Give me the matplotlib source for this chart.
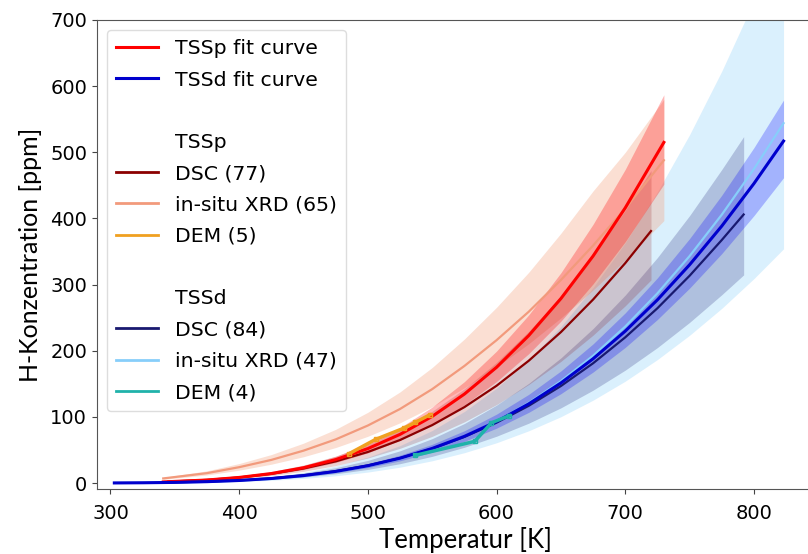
import matplotlib
matplotlib.use('Agg')
import matplotlib.pyplot as plt
from matplotlib.lines import Line2D

# TSSp group (fit curve + in-situ XRD), temperature grid in K
T_p = [341, 375, 400, 425, 450, 475, 500, 525, 550, 575, 600, 625, 650, 675, 700, 730]
tssp_fit = [1.75, 4.6, 8.5, 14.4, 23.2, 35.5, 52.1, 73.6, 100.8, 134.5, 175.0, 223.0, 278.9, 343.2, 416.0, 515]
tssp_fit_hi = [2.0, 5.2, 9.7, 16.4, 26.4, 40.5, 59.4, 83.9, 114.9, 153.3, 199.5, 254.2, 317.9, 391.2, 474.2, 587]
tssp_fit_lo = [1.5, 4.0, 7.5, 12.6, 20.4, 31.1, 45.7, 64.6, 88.4, 118.0, 153.5, 195.6, 244.7, 301.1, 364.9, 451.8]
xrd_p = [7, 15, 24, 35, 49, 66, 87, 112, 142, 177, 216, 259, 307, 359, 415, 488]
xrd_p_hi = [8.6, 18.5, 29.5, 43.1, 60.3, 81.2, 107.0, 137.8, 174.7, 217.7, 265.7, 318.6, 377.6, 441.6, 500, 580]
xrd_p_lo = [5.7, 12.2, 19.5, 28.5, 39.8, 53.7, 70.7, 91.1, 115.4, 143.9, 175.6, 210.6, 249.6, 291.9, 337.4, 396.7]

# TSSp DSC
T_dsc_p = [345, 375, 400, 425, 450, 475, 500, 525, 550, 575, 600, 625, 650, 675, 700, 720]
dsc_p = [2.2, 4.8, 8.5, 14.0, 22.0, 32.8, 47.0, 65.1, 87.6, 114.8, 147.1, 184.9, 228.2, 277.4, 332.5, 381]
dsc_p_hi = [2.7, 6.0, 10.5, 17.4, 27.3, 40.7, 58.3, 80.7, 108.6, 142.4, 182.4, 229.3, 283.0, 344.0, 412.3, 472.4]
dsc_p_lo = [1.8, 3.9, 6.9, 11.3, 17.7, 26.4, 37.9, 52.5, 70.6, 92.5, 118.6, 149.0, 183.9, 223.6, 268.0, 307.1]

# TSSd group (fit curve + in-situ XRD)
T_d = [303, 325, 350, 375, 400, 425, 450, 475, 500, 525, 550, 575, 600, 625, 650, 675, 700, 725, 750, 775, 800, 823]
tssd_fit = [0.19, 0.44, 1.0, 2.1, 3.9, 6.9, 11.3, 17.6, 26.2, 37.6, 52.3, 70.6, 93.0, 119.7, 151.3, 187.9, 229.7, 277.0, 330.0, 388.5, 452.8, 517]
tssd_fit_hi = [0.21, 0.49, 1.1, 2.4, 4.4, 7.7, 12.7, 19.7, 29.3, 42.1, 58.6, 79.1, 104.2, 134.1, 169.5, 210.4, 257.3, 310.2, 369.6, 435.1, 507.1, 579]
tssd_fit_lo = [0.17, 0.39, 0.9, 1.9, 3.5, 6.2, 10.1, 15.7, 23.4, 33.6, 46.7, 63.0, 83.0, 106.9, 135.1, 167.8, 205.1, 247.3, 294.7, 346.9, 404.3, 461.6]
xrd_d = [0.16, 0.38, 0.9, 1.9, 3.6, 6.4, 10.7, 16.9, 25.5, 36.9, 51.8, 70.5, 93.5, 121.3, 154.1, 192.5, 236.6, 286.8, 343.1, 405.7, 474.8, 544]
xrd_d_hi = [0.25, 0.58, 1.4, 2.9, 5.5, 9.8, 16.4, 25.9, 39.1, 56.6, 79.5, 108.2, 143.5, 186.2, 236.5, 295.5, 363.2, 440.2, 526.7, 622.7, 728.8, 835]
xrd_d_lo = [0.10, 0.25, 0.6, 1.2, 2.3, 4.2, 7.0, 11.0, 16.6, 24.0, 33.7, 45.9, 60.9, 79.0, 100.3, 125.3, 154.0, 186.7, 223.4, 264.1, 309.1, 354.1]

# TSSd DSC
T_dsc_d = [345, 375, 400, 425, 450, 475, 500, 525, 550, 575, 600, 625, 650, 675, 700, 725, 750, 775, 792]
dsc_d = [0.96, 2.3, 4.2, 7.2, 11.7, 18.0, 26.6, 37.8, 52.1, 69.8, 91.3, 116.8, 146.7, 181.1, 220.3, 264.3, 313.4, 367.4, 406]
dsc_d_hi = [1.2, 3.0, 5.4, 9.3, 15.1, 23.2, 34.3, 48.8, 67.2, 90.0, 117.8, 150.7, 189.2, 233.6, 284.2, 340.9, 404.3, 474.0, 523.7]
dsc_d_lo = [0.74, 1.8, 3.3, 5.6, 9.1, 14.0, 20.6, 29.3, 40.4, 54.1, 70.8, 90.5, 113.7, 140.4, 170.7, 204.8, 242.9, 284.7, 314.7]

# DEM measurements
T_dem_p = [485, 506, 528, 537, 548]
dem_p = [44, 66, 83, 92, 103]
T_dem_d = [537, 583, 596, 610]
dem_d = [42, 63, 91, 102]

c_red = 'red'
c_blue = 'mediumblue'
c_dsc_p = 'darkred'
c_xrd_p = '#f29a7c'
c_dem_p = '#f0a020'
c_dsc_d = 'midnightblue'
c_xrd_d = 'lightskyblue'
c_dem_d = 'lightseagreen'

fig = plt.figure(figsize=(8.08, 5.54), dpi=100)
ax = fig.add_axes([0.120, 0.1173, 0.880, 0.8466])

# bands
ax.fill_between(T_d, xrd_d_lo, xrd_d_hi, color=c_xrd_d, alpha=0.3, lw=0)
ax.fill_between(T_dsc_d, dsc_d_lo, dsc_d_hi, color=c_dsc_d, alpha=0.22, lw=0)
ax.fill_between(T_d, tssd_fit_lo, tssd_fit_hi, color='blue', alpha=0.25, lw=0)
ax.fill_between(T_p, xrd_p_lo, xrd_p_hi, color='#f4a582', alpha=0.35, lw=0)
ax.fill_between(T_dsc_p, dsc_p_lo, dsc_p_hi, color=c_dsc_p, alpha=0.18, lw=0)
ax.fill_between(T_p, tssp_fit_lo, tssp_fit_hi, color=c_red, alpha=0.28, lw=0)

# lines
ax.plot(T_p, xrd_p, color=c_xrd_p, lw=1.6)
ax.plot(T_dsc_p, dsc_p, color=c_dsc_p, lw=1.6)
ax.plot(T_p, tssp_fit, color=c_red, lw=2.2)
ax.plot(T_d, xrd_d, color=c_xrd_d, lw=1.6)
ax.plot(T_dsc_d, dsc_d, color=c_dsc_d, lw=1.6)
ax.plot(T_d, tssd_fit, color=c_blue, lw=2.2)
ax.plot(T_dem_p, dem_p, color=c_dem_p, lw=2.5, marker='s', ms=3, mfc='none')
ax.plot(T_dem_d, dem_d, color=c_dem_d, lw=2.5, marker='s', ms=3, mfc='none')

ax.set_xlim(289.5, 842)
ax.set_ylim(-9, 700)
ax.set_xticks([300, 400, 500, 600, 700, 800])
ax.set_yticks([0, 100, 200, 300, 400, 500, 600, 700])
ax.tick_params(labelsize=14, color='#444444')
ax.tick_params(axis='x', pad=7)
for s in ax.spines.values():
    s.set_color('#555555')
ax.spines['right'].set_visible(False)

ax.set_xlabel('Temperatur [K]', family='Lato', fontsize=18.5)
ax.xaxis.set_label_coords(0.518, -0.08)
ax.set_ylabel('H-Konzentration [ppm]', family='Lato', fontsize=18, labelpad=6)

blank = Line2D([], [], color='none')
handles = [
    Line2D([], [], color=c_red, lw=2.2),
    Line2D([], [], color=c_blue, lw=2.2),
    blank, blank,
    Line2D([], [], color=c_dsc_p, lw=2),
    Line2D([], [], color=c_xrd_p, lw=2),
    Line2D([], [], color=c_dem_p, lw=2),
    blank, blank,
    Line2D([], [], color=c_dsc_d, lw=2),
    Line2D([], [], color=c_xrd_d, lw=2),
    Line2D([], [], color=c_dem_d, lw=2),
]
labels = ['TSSp fit curve', 'TSSd fit curve', ' ', 'TSSp',
          'DSC (77)', 'in-situ XRD (65)', 'DEM (5)', ' ', 'TSSd',
          'DSC (84)', 'in-situ XRD (47)', 'DEM (4)']
ax.legend(handles, labels, loc='upper left', fontsize=14.7, labelspacing=0.6,
          handlelength=2.05, handletextpad=0.8, borderpad=0.45,
          framealpha=1, edgecolor='#dddddd')

plt.savefig('out.png', dpi=100)
